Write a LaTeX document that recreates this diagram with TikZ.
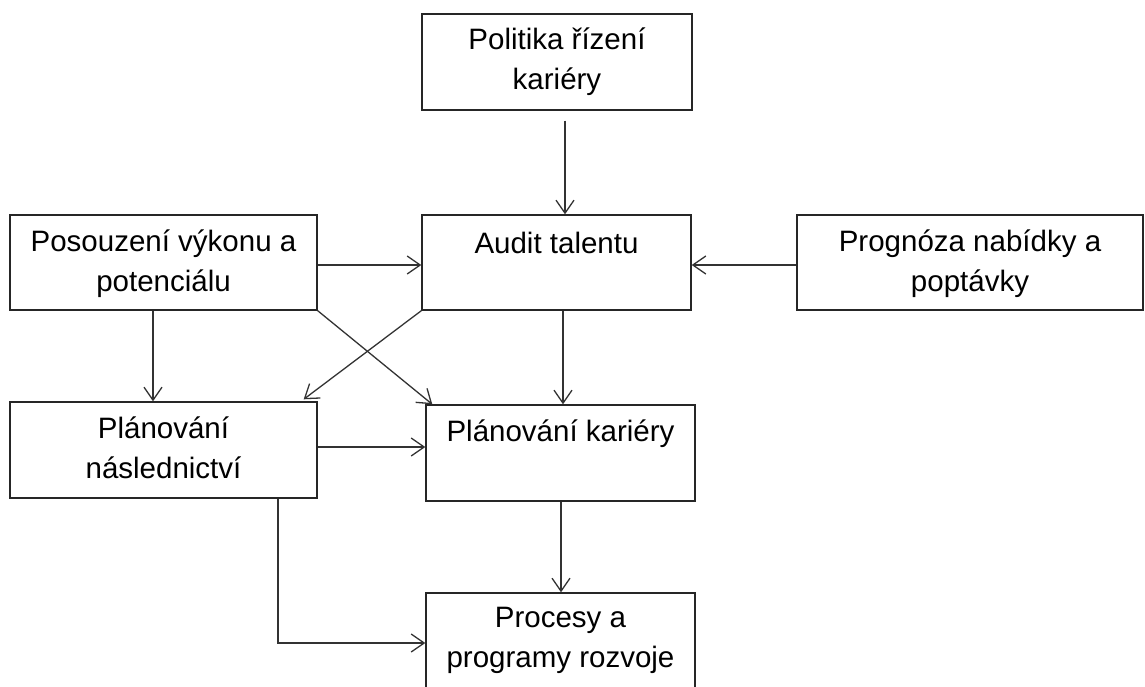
\documentclass[tikz,border=0pt]{standalone}
\usepackage{fontspec}
\setmainfont{Liberation Sans}
\usetikzlibrary{arrows.meta}
\tikzset{
  boxnode/.style={draw=black!85, line width=1.4pt, fill=white, inner sep=0pt, minimum width=#1},
  boxnode/.default=269pt,
  txt/.style={anchor=base, inner sep=0pt, font=\fontsize{29.5}{40}\selectfont, text=black},
  arr/.style={draw=black!80, line width=1.3pt, -{Straight Barb[length=13pt,width=18pt,line width=1.3pt]}}
}
\newcommand{\twoline}[2]{\begin{tabular}[t]{@{}c@{}}#1\\#2\end{tabular}}
\begin{document}
\begin{tikzpicture}[x=1pt,y=-1pt]
\useasboundingbox (0,0) rectangle (1145,686);
\clip (0,0) rectangle (1145,686);
% boxes
\node[boxnode=270pt, minimum height=96pt] (pol) at (557,62) {};
\node[boxnode=269pt, minimum height=95pt] (aud) at (556.5,262.5) {};
\node[boxnode=307pt, minimum height=95pt] (pos) at (163.5,262.5) {};
\node[boxnode=346pt, minimum height=95pt] (prog) at (970,262.5) {};
\node[boxnode=307pt, minimum height=96pt] (nasl) at (163.5,450) {};
\node[boxnode=269pt, minimum height=96pt] (kar) at (560.5,453) {};
\node[boxnode=269pt, minimum height=97pt] (proc) at (560.5,641.5) {};
% texts
\node[txt] (tpol) at ([yshift=-36pt]pol.north) {\twoline{Politika řízení}{kariéry}};
\node[txt] (taud) at ([yshift=-39pt]aud.north) {Audit talentu};
\node[txt] (tpos) at ([yshift=-37pt]pos.north) {\twoline{Posouzení výkonu a}{potenciálu}};
\node[txt] (tprog) at ([yshift=-37pt]prog.north) {\twoline{Prognóza nabídky a}{poptávky}};
\node[txt] (tnasl) at ([yshift=-37pt]nasl.north) {\twoline{Plánování}{následnictví}};
\node[txt] (tkar) at ([yshift=-37pt]kar.north) {Plánování kariéry};
\node[txt] (tproc) at ([yshift=-35pt]proc.north) {\twoline{Procesy a}{programy rozvoje}};
% connectors
\draw[arr] ([xshift=8pt,yshift=-10pt]pol.south) -- ([xshift=8.5pt]aud.north);
\draw[arr] ([xshift=6.5pt]aud.south) -- ([xshift=2.5pt]kar.north);
\draw[arr] ([xshift=0.5pt]kar.south) -- ([xshift=0.5pt]proc.north);
\draw[arr] ([yshift=-2.5pt]pos.east) -- ([yshift=-2.5pt]aud.west);
\draw[arr] ([yshift=-2.5pt]prog.west) -- ([yshift=-2.5pt]aud.east);
\draw[arr] ([xshift=-10.5pt]pos.south) -- ([xshift=-10.5pt]nasl.north);
\draw[arr] ([yshift=3pt]nasl.east) -- ([yshift=6pt]kar.west);
\draw[arr] ([xshift=114.5pt]nasl.south) |- ([yshift=-1.5pt]proc.west);
\draw[arr] (pos.south east) -- ([xshift=7pt]kar.north west);
\draw[arr] (aud.south west) -- ([xshift=-14pt,yshift=2pt]nasl.north east);
\end{tikzpicture}
\end{document}
